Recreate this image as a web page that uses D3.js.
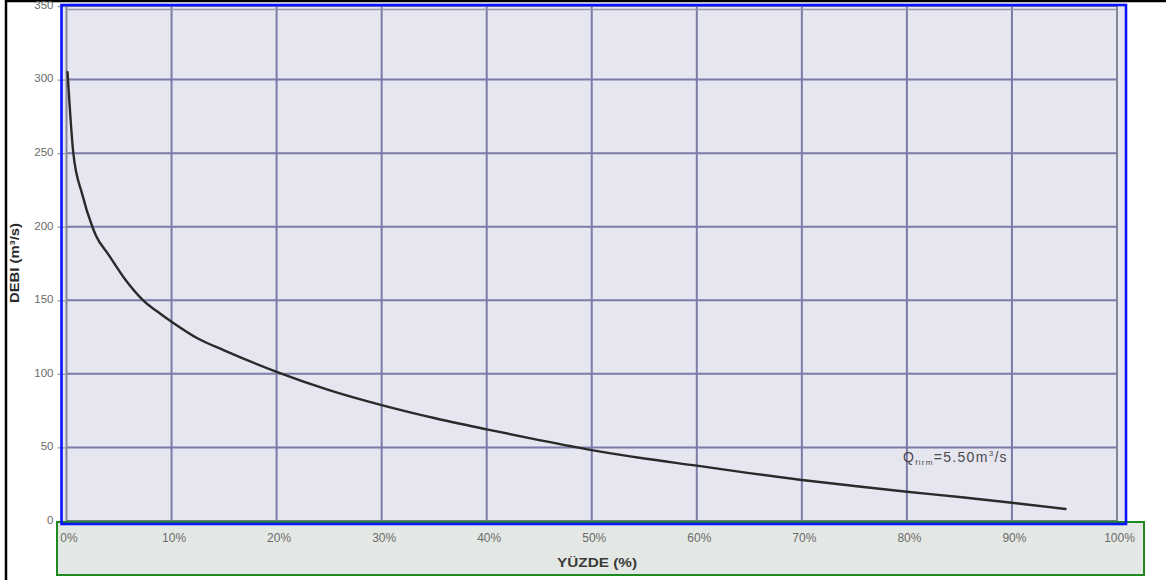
<!DOCTYPE html>
<html>
<head>
<meta charset="utf-8">
<script src="https://cdn.jsdelivr.net/npm/d3@7"></script>
<style>
  html, body { margin: 0; padding: 0; background: #ffffff; }
  svg { display: block; }
  text { font-family: "Liberation Sans", Arial, sans-serif; }
</style>
</head>
<body>
<svg id="chart" width="1166" height="580"></svg>
<script>
// ---- data ----
const xTickValues = [0, 10, 20, 30, 40, 50, 60, 70, 80, 90, 100];
const xTickLabels = ["0%", "10%", "20%", "30%", "40%", "50%", "60%", "70%", "80%", "90%", "100%"];
const yTickValues = [0, 50, 100, 150, 200, 250, 300, 350];
const yTickLabels = ["0", "50", "100", "150", "200", "250", "300", "350"];
const percent = [0.1, 0.65, 1.5, 2.46, 2.8, 4, 5.5, 7.3, 8.9, 10, 12.5, 15, 20, 25, 30, 35, 40, 45, 50, 55, 60, 65, 70, 75, 80, 85, 90, 95.1];
const debi    = [305, 250, 222, 200, 194, 181, 165, 150, 141, 135.4, 124, 116, 101.4, 89, 78.8, 70, 62.3, 55, 48.2, 42.5, 37.6, 32.5, 27.9, 23.8, 19.9, 16.3, 12.4, 8.2];
const xTitle = "YÜZDE (%)";
const yTitle = "DEBI (m³/s)";

const svg = d3.select("#chart");
const x = d3.scaleLinear().domain([0, 100]).range([66.5, 1117]);
const y = d3.scaleLinear().domain([0, 350]).range([521, 6]);

const gridColor = "#7b7ba9";

// outer scan border
svg.append("rect").attr("x", 0).attr("y", 0).attr("width", 1166).attr("height", 580).attr("fill", "#ffffff");
svg.append("line").attr("x1", 5).attr("x2", 1166).attr("y1", 1).attr("y2", 1).attr("stroke", "#000").attr("stroke-width", 2.5);
svg.append("line").attr("x1", 6).attr("x2", 6).attr("y1", 0).attr("y2", 580).attr("stroke", "#000").attr("stroke-width", 2.5);

// plot background
svg.append("rect").attr("x", 61.5).attr("y", 5).attr("width", 1064.5).attr("height", 519)
  .attr("fill", "#e6e6f0");

// grid
svg.append("g").selectAll("line").data(xTickValues).join("line")
  .attr("x1", d => x(d)).attr("x2", d => x(d))
  .attr("y1", y(350)).attr("y2", y(0))
  .attr("stroke", (d, i) => (i === 0 || i === xTickValues.length - 1) ? "#85859a" : gridColor)
  .attr("stroke-width", 2);
svg.append("g").selectAll("line").data(yTickValues).join("line")
  .attr("x1", x(0)).attr("x2", x(100))
  .attr("y1", d => y(d)).attr("y2", d => y(d))
  .attr("stroke", (d, i) => i === 0 ? "#77778a" : gridColor)
  .attr("stroke-width", 2);
// inner frame top edge
svg.append("line").attr("x1", x(0)).attr("x2", x(100)).attr("y1", 9.5).attr("y2", 9.5)
  .attr("stroke", "#9a9aaa").attr("stroke-width", 1.5);

// y axis labels
const yAxis = d3.axisLeft(y).tickValues(yTickValues)
  .tickFormat((d, i) => yTickLabels[i]).tickSize(9).tickPadding(4);
const gy = svg.append("g").attr("transform", `translate(${x(0)},0)`).call(yAxis);
gy.select(".domain").remove();
gy.selectAll(".tick line").attr("stroke", "#9a9a9a").attr("stroke-width", 1.2);
gy.selectAll(".tick text").attr("fill", "#6a6a6a").attr("font-size", 11.5).attr("dy", "0.2em");

// curve
svg.append("path")
  .datum(percent.map((p, i) => [p, debi[i]]))
  .attr("d", d3.line().x(d => x(d[0])).y(d => y(d[1])).curve(d3.curveMonotoneX))
  .attr("fill", "none").attr("stroke", "#2a2a2a").attr("stroke-width", 2.4)
  .attr("stroke-linejoin", "round").attr("stroke-linecap", "round");

// bottom green box
svg.append("rect").attr("x", 57).attr("y", 522).attr("width", 1087).attr("height", 53)
  .attr("fill", "#e4e8e4").attr("stroke", "#1f8a22").attr("stroke-width", 2);

// blue frame
svg.append("rect").attr("x", 61.5).attr("y", 5).attr("width", 1064.5).attr("height", 519)
  .attr("fill", "none").attr("stroke", "#0a14ff").attr("stroke-width", 2.6);

// x axis labels
const xAxis = d3.axisBottom(x).tickValues(xTickValues)
  .tickFormat((d, i) => xTickLabels[i]).tickSize(0).tickPadding(12);
const gx = svg.append("g").attr("transform", `translate(0,${y(0)})`).call(xAxis);
gx.select(".domain").remove();
gx.selectAll(".tick text").attr("fill", "#6a6a6a").attr("font-size", 12).attr("dx", 2);

// axis titles
svg.append("text").attr("x", 597).attr("y", 567).attr("text-anchor", "middle")
  .attr("font-size", 12.5).attr("font-weight", "bold").attr("fill", "#3a3a3a")
  .attr("textLength", 80).attr("lengthAdjust", "spacingAndGlyphs").text(xTitle);
svg.append("text").attr("transform", "translate(19,263) rotate(-90)").attr("text-anchor", "middle")
  .attr("font-size", 12).attr("font-weight", "bold").attr("fill", "#2a2a2a")
  .attr("textLength", 80).attr("lengthAdjust", "spacingAndGlyphs").text(yTitle);

// annotation
const ann = svg.append("text").attr("x", 903).attr("y", 462).attr("font-size", 14).attr("fill", "#4a4a4a")
  .attr("letter-spacing", 1.3);
ann.append("tspan").text("Q");
ann.append("tspan").attr("font-size", 8).attr("dy", 3).text("firm");
ann.append("tspan").attr("dy", -3).text("=5.50m");
ann.append("tspan").attr("font-size", 8).attr("dy", -6).text("3");
ann.append("tspan").attr("dy", 6).text("/s");
</script>
</body>
</html>
